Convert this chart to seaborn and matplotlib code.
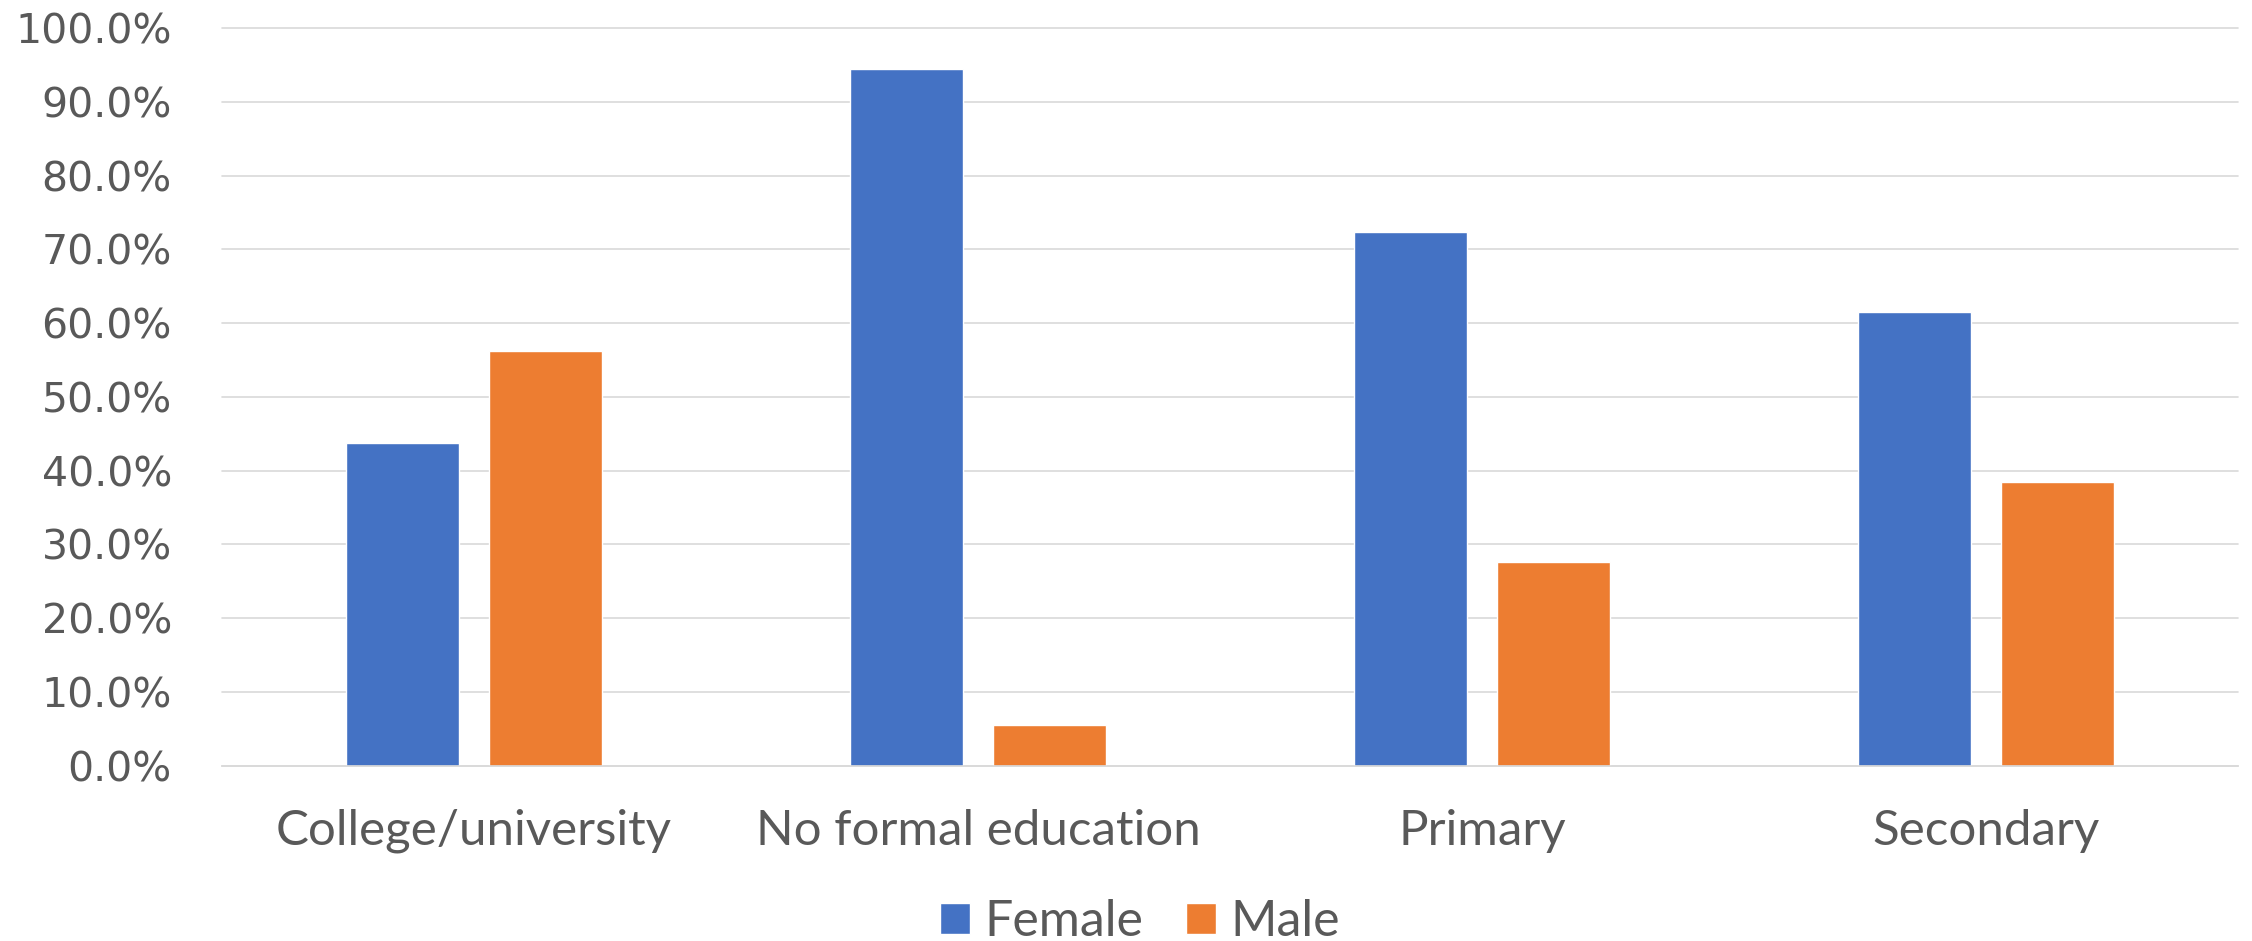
import matplotlib
matplotlib.use("Agg")
import matplotlib.pyplot as plt
from matplotlib.ticker import PercentFormatter, MultipleLocator
import seaborn as sns
import pandas as pd

# Share of each education level by gender
categories = ["College/university", "No formal education", "Primary", "Secondary"]
female = [0.438, 0.945, 0.724, 0.615]
male = [0.562, 0.055, 0.276, 0.385]
series_names = ["Female", "Male"]
colors = ["#4472C4", "#ED7D31"]
text_color = "#595959"
grid_color = "#D9D9D9"

df = pd.DataFrame({
    "Education": categories * 2,
    "Share": female + male,
    "Gender": [series_names[0]] * len(categories) + [series_names[1]] * len(categories),
})

sns.set_theme(style="white")
plt.rcParams["font.family"] = ["Lato", "DejaVu Sans"]

fig = plt.figure(figsize=(22.52, 9.41), dpi=100)
ax = fig.add_axes([222 / 2252, 1 - 765.6 / 941, 2016 / 2252, (765.6 - 28.2) / 941])

sns.barplot(
    data=df, x="Education", y="Share", hue="Gender",
    order=categories, hue_order=series_names, palette=colors,
    width=0.5675, gap=0.21, saturation=1, ax=ax, errorbar=None,
)

ax.set_xlim(-0.5, len(categories) - 0.5)
ax.set_ylim(0, 1.0)
ax.yaxis.set_major_locator(MultipleLocator(0.1))
ax.yaxis.set_major_formatter(PercentFormatter(xmax=1, decimals=1))
ax.set_axisbelow(True)
ax.grid(axis="y", color=grid_color, linewidth=1.2)
ax.grid(axis="x", visible=False)
for g in ax.get_ygridlines():
    g.set_clip_on(False)

for side in ["top", "right", "left"]:
    ax.spines[side].set_visible(False)
ax.spines["bottom"].set_color(grid_color)
ax.spines["bottom"].set_linewidth(1.2)

ax.set_xlabel("")
ax.set_ylabel("")
ax.tick_params(axis="x", length=0, pad=31, labelsize=35.5, labelcolor=text_color)
ax.tick_params(axis="y", length=0, pad=36, labelcolor=text_color)
for lbl in ax.get_yticklabels():
    lbl.set_fontfamily(["DejaVu Sans"])
    lbl.set_fontsize(29.5)

handles, labels = ax.get_legend_handles_labels()
if ax.get_legend() is not None:
    ax.get_legend().remove()
fig.legend(
    handles, labels, loc="center", bbox_to_anchor=(1140 / 2252, 1 - 922 / 941),
    ncol=2, frameon=False, fontsize=36, labelcolor=text_color,
    handlelength=0.6, handleheight=0.6, handletextpad=0.28, columnspacing=0.87,
    borderaxespad=0,
)

fig.savefig("out.png", dpi=100)
